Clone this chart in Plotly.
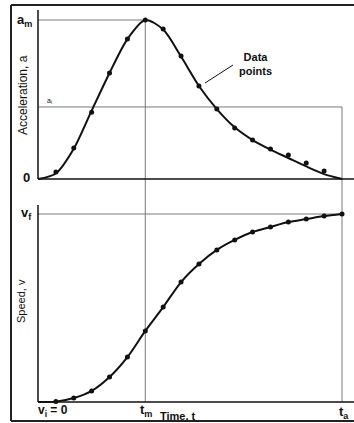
import plotly.graph_objects as go

# ---- data ----
time_curve = [0, 1, 2, 3, 4, 5, 6, 7, 8, 9, 10, 11, 12, 13, 14, 15, 16, 17]
accel_curve = [0, 0.035, 0.19, 0.43, 0.667, 0.88, 1.0, 0.94, 0.77, 0.585, 0.44,
               0.325, 0.245, 0.185, 0.132, 0.079, 0.031, 0]
time_accel_pts = [1, 2, 3, 4, 5, 6, 7, 8, 9, 10, 11, 12, 13, 14, 15, 16]
accel_pts = [0.044, 0.195, 0.42, 0.667, 0.88, 1.0, 0.943, 0.774, 0.585, 0.44,
             0.32, 0.245, 0.189, 0.151, 0.10, 0.05]
speed_curve = [0, 0.002, 0.021, 0.059, 0.133, 0.239, 0.378, 0.505, 0.638, 0.734,
               0.809, 0.862, 0.904, 0.931, 0.957, 0.973, 0.989, 1.0]
time_speed_pts = [1, 2, 3, 4, 5, 6, 7, 8, 9, 10, 11, 12, 13, 14, 15, 16, 17]
speed_pts = [0.002, 0.021, 0.059, 0.133, 0.239, 0.378, 0.505, 0.638, 0.734,
             0.809, 0.862, 0.904, 0.931, 0.957, 0.973, 0.989, 1.0]
t_m = 6
t_a = 17
a_m = 1.0
a_i = 0.453
v_f = 1.0

W, H = 354, 423
FONT = "Liberation Sans, Arial, sans-serif"
INK = "#111111"
GRAY = "#7a7a7a"

def px(x):
    return x / W

def py(y):
    return 1 - y / H

fig = go.Figure()
fig.add_trace(go.Scatter(x=time_curve, y=accel_curve, mode="lines",
                         line=dict(color=INK, width=2, shape="spline", smoothing=0.8),
                         xaxis="x", yaxis="y", hoverinfo="skip"))
fig.add_trace(go.Scatter(x=time_accel_pts, y=accel_pts, mode="markers",
                         marker=dict(color=INK, size=5), xaxis="x", yaxis="y"))
fig.add_trace(go.Scatter(x=time_curve, y=speed_curve, mode="lines",
                         line=dict(color=INK, width=2, shape="spline", smoothing=0.8),
                         xaxis="x", yaxis="y2", hoverinfo="skip"))
fig.add_trace(go.Scatter(x=time_speed_pts, y=speed_pts, mode="markers",
                         marker=dict(color=INK, size=5), xaxis="x", yaxis="y2"))

# axis scaling: t=0 at px 38, t=17 at px 342
ppu_x = (342 - 38) / 17
x_range = [-38 / ppu_x, (W - 38) / ppu_x]
# accel: 0 at py 179, 1 at py 20
ppu_a = 159
y_range = [(179 - H) / ppu_a, 179 / ppu_a]
# speed: 0 at py 402, 1 at py 214
ppu_v = 188
y2_range = [(402 - H) / ppu_v, 402 / ppu_v]

shapes = []
def line(x0, y0, x1, y1, yref, color=GRAY, width=1, xref="x"):
    shapes.append(dict(type="line", xref=xref, yref=yref, x0=x0, y0=y0, x1=x1, y1=y1,
                       line=dict(color=color, width=width), layer="below"))

a_top = (179 - 10) / ppu_a
v_top = (402 - 205) / ppu_v
v_gap = (402 - 179) / ppu_v
# reference lines
line(0, a_m, t_m, a_m, "y")
line(t_m, a_m, t_m, 0, "y")
line(t_m, 0, t_m, v_gap, "y2")
line(0, a_i, t_a, a_i, "y")
line(t_a, a_i, t_a, 0, "y")
line(t_a, 0, t_a, v_gap, "y2")
line(0, v_f, t_a, v_f, "y2")
# axes
line(0, 0, 0, a_top, "y", INK, 1.5)
line(0, 0, x_range[1], 0, "y", INK, 1.5)
line(0, 0, 0, v_top, "y2", INK, 1.5)
line(0, 0, x_range[1], 0, "y2", INK, 1.5)
# frame
for x0, y0, x1, y1 in [(11, 5, W, 5), (11, 5, 11, 421), (11, 421, W, 421)]:
    shapes.append(dict(type="line", xref="paper", yref="paper",
                       x0=px(x0), y0=py(y0), x1=px(x1), y1=py(y1),
                       line=dict(color="#222222", width=2)))
# leader line for "Data points"
shapes.append(dict(type="line", xref="paper", yref="paper",
                   x0=px(233), y0=py(65), x1=px(205), y1=py(83),
                   line=dict(color=INK, width=1)))

ann = []
def text(x, y, s, size=12, xanchor="center", yanchor="middle", angle=0):
    ann.append(dict(x=px(x), y=py(y), xref="paper", yref="paper", text=s,
                    showarrow=False, xanchor=xanchor, yanchor=yanchor, textangle=angle,
                    font=dict(family=FONT, size=size, color=INK)))

text(34, 21, "<b>a<sub>m</sub></b>", 13, xanchor="right")
text(32, 178, "<b>0</b>", 13, xanchor="right")
text(45, 101, "a<sub>i</sub>", 7, xanchor="left")
text(23, 95, "Acceleration, a", 12, angle=-90)
text(237, 64, "<b>Data<br>points</b>", 11, xanchor="left")
text(34, 214, "<b>v<sub>f</sub></b>", 13, xanchor="right")
text(21, 301, "Speed, v", 11, angle=-90)
text(36, 411, "<b>v<sub>i</sub> = 0</b>", 12, xanchor="left")
text(146, 410, "<b>t<sub>m</sub></b>", 13)
text(158, 416, "<b>Time, t</b>", 11, xanchor="left")
text(344, 412, "<b>t<sub>a</sub></b>", 13)

fig.update_layout(
    width=W, height=H, margin=dict(l=0, r=0, t=0, b=0),
    paper_bgcolor="white", plot_bgcolor="white", showlegend=False,
    xaxis=dict(range=x_range, domain=[0, 1], visible=False, fixedrange=True),
    yaxis=dict(range=y_range, domain=[0, 1], visible=False, fixedrange=True),
    yaxis2=dict(range=y2_range, domain=[0, 1], overlaying="y", visible=False,
                fixedrange=True),
    shapes=shapes, annotations=ann,
)
fig.write_html("out.html")
